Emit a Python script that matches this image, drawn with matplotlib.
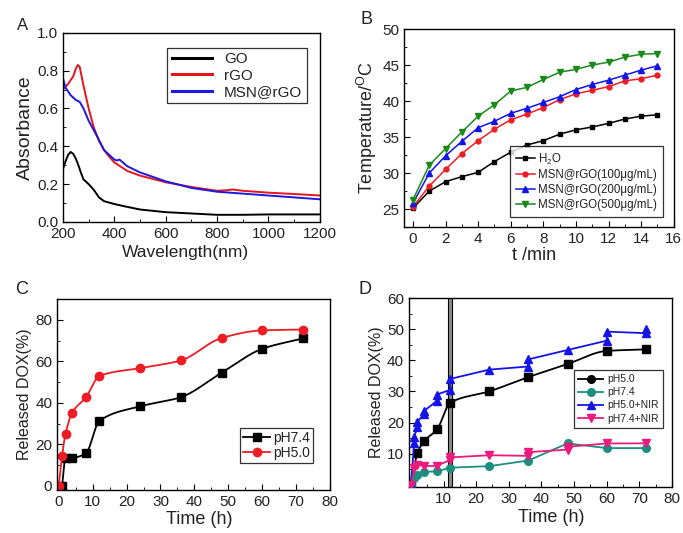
import numpy as np
import matplotlib
matplotlib.use("Agg")
import matplotlib.pyplot as plt
from matplotlib.ticker import MultipleLocator

plt.rcParams['font.family'] = ['Liberation Sans', 'DejaVu Sans']
plt.rcParams['mathtext.fontset'] = 'custom'
plt.rcParams['mathtext.rm'] = 'Liberation Sans'
plt.rcParams['mathtext.it'] = 'Liberation Sans:italic'
plt.rcParams['text.color'] = '#222222'
plt.rcParams['axes.labelcolor'] = '#222222'

# ---- panel A: UV-vis absorbance ----
wl_go = [200, 210, 220, 230, 240, 250, 260, 270, 280, 300, 320, 340, 360, 400, 450, 500, 600, 700, 800, 900, 1000, 1100, 1200]
abs_go = [0.28, 0.32, 0.355, 0.37, 0.36, 0.335, 0.30, 0.26, 0.225, 0.20, 0.17, 0.13, 0.11, 0.095, 0.08, 0.066, 0.052, 0.045, 0.038, 0.038, 0.04, 0.04, 0.04]
wl_rgo = [200, 220, 240, 250, 258, 265, 280, 300, 320, 340, 360, 380, 400, 450, 500, 600, 700, 800, 840, 860, 900, 1000, 1100, 1200]
abs_rgo = [0.70, 0.73, 0.77, 0.81, 0.83, 0.82, 0.72, 0.60, 0.50, 0.43, 0.38, 0.345, 0.315, 0.27, 0.245, 0.21, 0.185, 0.165, 0.168, 0.172, 0.165, 0.155, 0.148, 0.14]
wl_msn = [200, 210, 230, 250, 265, 280, 300, 330, 360, 380, 400, 410, 420, 450, 500, 600, 700, 800, 900, 1000, 1100, 1200]
abs_msn = [0.76, 0.71, 0.67, 0.645, 0.635, 0.60, 0.535, 0.46, 0.38, 0.355, 0.33, 0.325, 0.33, 0.295, 0.262, 0.215, 0.18, 0.16, 0.15, 0.14, 0.13, 0.12]

# ---- panel B: photothermal heating ----
t_min = list(range(16))
temp_h2o = [25.1, 27.5, 28.8, 29.5, 30.1, 31.6, 32.9, 33.9, 34.5, 35.4, 36.0, 36.4, 36.9, 37.5, 37.9, 38.1]
temp_100 = [25.3, 28.2, 30.5, 32.7, 34.5, 36.1, 37.4, 38.2, 39.1, 40.2, 41.0, 41.5, 42.0, 42.8, 43.1, 43.6]
temp_200 = [25.8, 30.0, 32.4, 34.4, 36.3, 37.2, 38.3, 39.0, 39.8, 40.6, 41.6, 42.3, 42.9, 43.6, 44.3, 44.9]
temp_500 = [26.3, 31.1, 33.4, 35.7, 37.9, 39.5, 41.4, 41.9, 43.0, 44.0, 44.4, 45.0, 45.4, 46.1, 46.5, 46.6]

# ---- panel C: DOX release ----
tc_74 = [1, 2, 4, 8, 12, 24, 36, 48, 60, 72]
rel_74 = [0, 13.5, 13.5, 15.7, 31.3, 38.3, 42.7, 54.5, 66.0, 71.0]
tc_50 = [0, 1, 2, 4, 8, 12, 24, 36, 48, 60, 72]
rel_50 = [0, 14.6, 25.0, 35.3, 42.6, 52.9, 56.7, 60.4, 71.2, 74.9, 75.3]

# ---- panel D: DOX release with NIR ----
td_50 = [0, 2, 4, 8, 12, 24, 36, 48, 60, 72]
rd_50 = [0, 10.2, 14.0, 17.8, 26.3, 30.0, 34.6, 38.8, 43.0, 43.5]
td_74 = [0, 1, 2, 4, 8, 12, 24, 36, 48, 60, 72]
rd_74 = [0, 2.1, 3.2, 4.2, 4.3, 5.5, 6.0, 7.8, 13.3, 11.8, 11.8]
td_50n = [0, 1, 1, 2, 2, 4, 4, 8, 8, 12, 12, 24, 36, 36, 48, 60, 60, 72, 72]
rd_50n = [0, 13.5, 15.5, 18.5, 20.3, 22.7, 23.7, 27.0, 29.0, 30.5, 34.0, 37.0, 38.0, 40.3, 43.3, 46.3, 49.2, 48.7, 50.2]
td_74n = [0, 1, 2, 4, 8, 12, 12, 24, 36, 36, 48, 48, 60, 72]
rd_74n = [0, 5.3, 6.5, 6.0, 6.1, 8.0, 8.8, 9.5, 9.3, 10.5, 11.3, 12.2, 13.3, 13.3]
nir_window = (11.3, 12.7)


def pchip(x, y, n=400):
    # monotone cubic curve through the points, for the smoothed lines
    x = np.asarray(x, float)
    y = np.asarray(y, float)
    h = np.diff(x)
    d = np.diff(y) / h
    m = np.zeros_like(y)
    m[0], m[-1] = d[0], d[-1]
    for k in range(1, len(x) - 1):
        if d[k - 1] * d[k] > 0:
            w1 = 2 * h[k] + h[k - 1]
            w2 = h[k] + 2 * h[k - 1]
            m[k] = (w1 + w2) / (w1 / d[k - 1] + w2 / d[k])
    xs = np.linspace(x[0], x[-1], n)
    idx = np.clip(np.searchsorted(x, xs) - 1, 0, len(x) - 2)
    s = (xs - x[idx]) / h[idx]
    h00 = 2 * s**3 - 3 * s**2 + 1
    h10 = s**3 - 2 * s**2 + s
    h01 = -2 * s**3 + 3 * s**2
    h11 = s**3 - s**2
    ys = h00 * y[idx] + h10 * h[idx] * m[idx] + h01 * y[idx + 1] + h11 * h[idx] * m[idx + 1]
    return xs, ys


def style(ax):
    ax.tick_params(which='both', direction='in', top=False, right=False,
                   labelsize=11, labelcolor='#222222')
    ax.tick_params(which='major', length=4)
    ax.tick_params(which='minor', length=2)
    for sp in ax.spines.values():
        sp.set_linewidth(1.0)


fig = plt.figure(figsize=(6.83, 5.33), dpi=100)

# A
ax = fig.add_axes([0.0922, 0.5835, 0.376, 0.355])
ax.plot(wl_go, abs_go, color='black', lw=1.4, label='GO')
ax.plot(wl_rgo, abs_rgo, color='#e8141c', lw=1.4, label='rGO')
ax.plot(wl_msn, abs_msn, color='#1a1ae0', lw=1.4, label='MSN@rGO')
ax.set_xlim(200, 1200)
ax.set_ylim(0, 1.0)
ax.xaxis.set_major_locator(MultipleLocator(200))
ax.xaxis.set_minor_locator(MultipleLocator(100))
ax.yaxis.set_major_locator(MultipleLocator(0.2))
ax.yaxis.set_minor_locator(MultipleLocator(0.1))
style(ax)
ax.set_xlabel('Wavelength(nm)', fontsize=12.5)
ax.xaxis.set_label_coords(0.477, -0.12)
ax.set_ylabel('Absorbance', fontsize=14, labelpad=2)
leg = ax.legend(loc='upper right', bbox_to_anchor=(0.949, 0.921), fontsize=11,
                fancybox=False, edgecolor='black', handlelength=2.6, borderaxespad=0,
                labelspacing=0.15, handletextpad=0.8, borderpad=0.3)
leg.get_frame().set_linewidth(0.9)
for line in leg.get_lines():
    line.set_linewidth(2.2)
fig.text(23 / 683, 1 - 26 / 533, 'A', fontsize=12, ha='center', va='center')

# B
ax = fig.add_axes([0.5915, 0.574, 0.395, 0.3715])
ax.plot(t_min, temp_h2o, color='black', marker='s', ms=3.5, lw=1.1, label='H$_2$O')
ax.plot(t_min, temp_100, color='#ee1c24', marker='o', ms=3.5, lw=1.1, label='MSN@rGO(100\u03bcg/mL)')
ax.plot(t_min, temp_200, color='#1414e6', marker='^', ms=4, lw=1.1, label='MSN@rGO(200\u03bcg/mL)')
ax.plot(t_min, temp_500, color='#1a8a1a', marker='v', ms=4, lw=1.1, label='MSN@rGO(500\u03bcg/mL)')
ax.set_xlim(-0.55, 16)
ax.set_ylim(22.5, 50)
ax.xaxis.set_major_locator(MultipleLocator(2))
ax.xaxis.set_minor_locator(MultipleLocator(1))
ax.yaxis.set_major_locator(MultipleLocator(5))
ax.yaxis.set_minor_locator(MultipleLocator(2.5))
style(ax)
ax.set_xlabel('t /min', fontsize=13)
ax.xaxis.set_label_coords(0.481, -0.1)
ax.set_ylabel('Temperature/$^{\\mathrm{O}}$C', fontsize=13, labelpad=2)
leg = ax.legend(loc='lower right', bbox_to_anchor=(0.959, 0.051), fontsize=8.3,
                fancybox=False, edgecolor='black', handlelength=1.6, borderaxespad=0,
                labelspacing=0.25, handletextpad=0.3, borderpad=0.5)
leg.get_frame().set_linewidth(0.9)
fig.text(367 / 683, 1 - 19 / 533, 'B', fontsize=13, ha='center', va='center')

# C
ax = fig.add_axes([0.0835, 0.0807, 0.3997, 0.3583])
for tx, ry, col, mk, lab in [(tc_74, rel_74, 'black', 's', 'pH7.4'),
                             (tc_50, rel_50, '#ee1c24', 'o', 'pH5.0')]:
    xs, ys = pchip(tx, ry)
    ax.plot(xs, ys, color=col, lw=1.3)
    ax.plot(tx, ry, color=col, marker=mk, ms=6, ls='none')
    ax.plot([], [], color=col, marker=mk, ms=6, lw=1.3, label=lab)
ax.set_xlim(-0.5, 80)
ax.set_ylim(-2, 90)
ax.xaxis.set_major_locator(MultipleLocator(10))
ax.xaxis.set_minor_locator(MultipleLocator(5))
ax.yaxis.set_minor_locator(MultipleLocator(10))
ax.set_yticks([0, 20, 40, 60, 80])
style(ax)
ax.set_xlabel('Time (h)', fontsize=13)
ax.xaxis.set_label_coords(0.52, -0.11)
ax.set_ylabel('Released DOX(%)', fontsize=11.5, labelpad=2)
leg = ax.legend(loc='lower right', bbox_to_anchor=(0.937, 0.141), fontsize=10,
                fancybox=False, edgecolor='black', handlelength=2.0, borderaxespad=0,
                labelspacing=0.1, handletextpad=0.2, borderpad=0.2)
leg.get_frame().set_linewidth(0.9)
fig.text(22 / 683, 1 - 290 / 533, 'C', fontsize=13, ha='center', va='center')

# D
ax = fig.add_axes([0.5988, 0.0863, 0.385, 0.3546])
ax.axvspan(nir_window[0], nir_window[1], facecolor='#8c8c8c', edgecolor='black', lw=0.8, zorder=1)
xs, ys = pchip(td_50, rd_50)
ax.plot(xs, ys, color='black', lw=1.3, zorder=3)
ax.plot(td_50, rd_50, color='black', marker='s', ms=5.5, ls='none', zorder=3)
ax.plot([], [], color='black', marker='o', ms=5.5, lw=1.3, label='pH5.0')
ax.plot(td_74, rd_74, color='#1a8f80', marker='o', ms=5.5, lw=1.3, label='pH7.4', zorder=3)
ax.plot(td_50n, rd_50n, color='#1414e6', marker='^', ms=6, lw=1.3, label='pH5.0+NIR', zorder=3)
ax.plot(td_74n, rd_74n, color='#ec1a7c', marker='v', ms=6, lw=1.3, label='pH7.4+NIR', zorder=4)
ax.set_xlim(-0.6, 80)
ax.set_ylim(-0.7, 60)
ax.set_xticks([10, 20, 30, 40, 50, 60, 70, 80])
ax.xaxis.set_minor_locator(MultipleLocator(5))
ax.set_yticks([10, 20, 30, 40, 50, 60])
ax.yaxis.set_minor_locator(MultipleLocator(5))
style(ax)
ax.set_xlabel('Time (h)', fontsize=13)
ax.xaxis.set_label_coords(0.54, -0.115)
ax.set_ylabel('Released DOX(%)', fontsize=11.5, labelpad=2)
leg = ax.legend(loc='upper right', bbox_to_anchor=(0.966, 0.619), fontsize=7.5,
                fancybox=False, edgecolor='black', handlelength=2.4, borderaxespad=0,
                labelspacing=0.3, handletextpad=0.4, borderpad=0.4)
leg.get_frame().set_linewidth(0.9)
fig.text(365 / 683, 1 - 290 / 533, 'D', fontsize=13, ha='center', va='center')

fig.savefig('out.png', dpi=100)
